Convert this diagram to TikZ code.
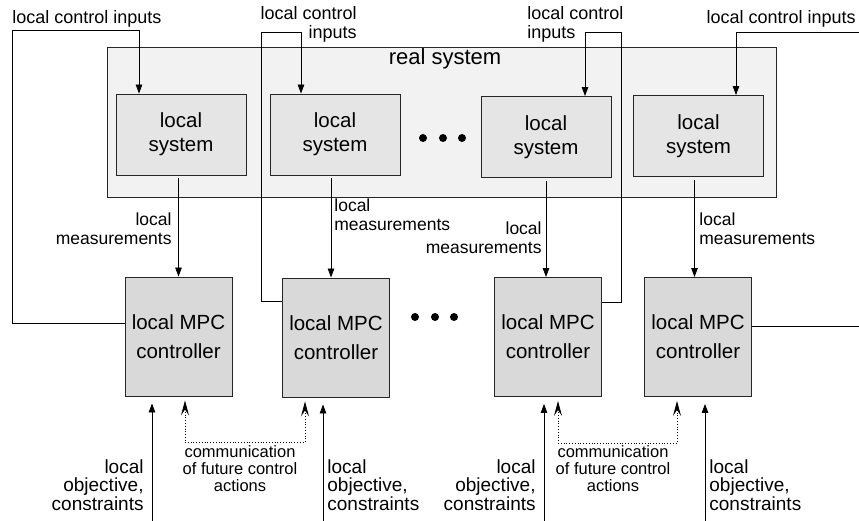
\documentclass[tikz,border=0pt]{standalone}
\usepackage{fontspec}
\setmainfont{Liberation Sans}
\usetikzlibrary{arrows.meta}
\newcommand{\lblfont}{\fontsize{17.5}{18.5}\selectfont}

\begin{document}
\begin{tikzpicture}[x=1pt,y=-1pt,line width=0.8pt,
    sysbox/.style={draw=black!85,fill=black!10,line width=0.9pt,minimum width=130pt,minimum height=81pt,align=center,font=\fontsize{20.5}{24}\selectfont},
    mpcbox/.style={draw=black!85,fill=black!15,line width=0.9pt,minimum width=107pt,minimum height=119pt,align=center,font=\fontsize{20.5}{29}\selectfont},
    lbl/.style={inner sep=0pt,font=\lblfont},
    objlbl/.style={inner sep=0pt,font=\fontsize{19}{18.5}\selectfont},
    comlbl/.style={inner sep=0pt,align=center,font=\fontsize{16.5}{17}\selectfont},
    arr/.style={-{Triangle[length=9pt,width=6.5pt]}},
    comm/.style={dotted,{Stealth[length=15pt,width=8pt,inset=6pt]}-{Stealth[length=15pt,width=8pt,inset=6pt]}}]
    \useasboundingbox (0,0) rectangle (859,521);

    \node[draw=black!85,fill=black!5,line width=0.9pt,minimum width=669pt,minimum height=150pt] (real) at (441.5,122) {};
    \node[font=\fontsize{22}{24}\selectfont] (realt) at (445,59) {real system};

    \node[sysbox] (s1) at (181,134.5) {local\\system};
    \node[sysbox] (s2) at (335,134.5) {local\\system};
    \node[sysbox] (s3) at (546,137) {local\\system};
    \node[sysbox] (s4) at (698.5,136) {local\\system};

    \node[mpcbox] (m1) at (178.5,336.5) {local MPC\\controller};
    \node[mpcbox] (m2) at (336,337.5) {local MPC\\controller};
    \node[mpcbox] (m3) at (548,337) {local MPC\\controller};
    \node[mpcbox] (m4) at (698,337) {local MPC\\controller};

    \foreach \x in {423,443,462} \fill (\x,138) circle (4);
    \foreach \x in {415,435,454} \fill (\x,317) circle (4);

    % local measurements
    \draw[arr,shorten <=3pt] (s1.south -| m1.north) -- (m1.north);
    \draw[arr,shorten <=3pt] ([xshift=-4pt]s2.south) -- ([xshift=-4pt]s2.south |- m2.north);
    \draw[arr,shorten <=3pt] (s3.south) -- (s3.south |- m3.north);
    \draw[arr,shorten <=3pt] ([xshift=-4pt]s4.south) -- ([xshift=-4pt]s4.south |- m4.north);

    \node[lbl,anchor=south east,align=right] (meas1) at (172,245) {local\\measurements};
    \node[lbl,anchor=south west,align=left] (meas2) at (334,231) {local\\measurements};
    \node[lbl,anchor=south east,align=right] (meas3) at (542,254) {local\\measurements};
    \node[lbl,anchor=south west,align=left] (meas4) at (699,245) {local\\measurements};

    % local control inputs
    \coordinate (lft) at (12,30);
    \coordinate (rgt) at (859,32);
    \draw[arr] ([yshift=13.5pt]m1.west) -| (lft) -| ([xshift=-42pt]s1.north);
    \draw[arr] ([yshift=36.5pt]m2.west) -| (261,32) -| ([xshift=-34pt]s2.north);
    \draw[arr] ([yshift=35pt]m3.east) -| (621,32) -| ([xshift=39pt]s3.north);
    \draw[arr] (rgt) -| ([xshift=37.5pt]s4.north);
    \draw ([yshift=11pt]m4.east) -- (rgt |- 0,326);

    \node[lbl,font=\fontsize{18}{19}\selectfont,anchor=base west] (in1) at (12,24) {local control inputs};
    \node[lbl,font=\fontsize{18}{19}\selectfont,anchor=south east,align=right] (in2) at (357,43) {local control\\inputs};
    \node[lbl,font=\fontsize{18}{19}\selectfont,anchor=south west,align=left] (in3) at (527,43) {local control\\inputs};
    \node[lbl,font=\fontsize{18}{19}\selectfont,anchor=base east] (in4) at (856,24) {local control inputs};

    % objectives and communication
    \coordinate (bot) at (0,521);
    \coordinate (o1) at ([xshift=-26.5pt,yshift=-7pt]m1.south);
    \coordinate (o2) at ([xshift=-13pt,yshift=-7pt]m2.south);
    \coordinate (o3) at ([xshift=-4pt,yshift=-7pt]m3.south);
    \coordinate (o4) at ([xshift=7pt,yshift=-7pt]m4.south);
    \foreach \o in {o1,o2,o3,o4} \draw[arr] (\o |- bot) -- (\o);

    \node[objlbl,anchor=south east,align=right] (obj1) at (144,511) {local\\objective,\\constraints};
    \node[objlbl,anchor=south west,align=left] (obj2) at (327,511) {local\\objective,\\constraints};
    \node[objlbl,anchor=south east,align=right] (obj3) at (536,511) {local\\objective,\\constraints};
    \node[objlbl,anchor=south west,align=left] (obj4) at (709,511) {local\\objective,\\constraints};

    \coordinate (k1) at ([xshift=6.5pt,yshift=-4pt]m1.south);
    \coordinate (k2) at ([xshift=-31pt,yshift=-4pt]m2.south);
    \coordinate (k3) at ([xshift=10pt,yshift=-4pt]m3.south);
    \coordinate (k4) at ([xshift=-21pt,yshift=-4pt]m4.south);
    \draw[comm] (k1) -- ++(0,42) -| (k2);
    \draw[comm] (k3) -- ++(0,42) -| (k4);

    \node[comlbl] (com1) at (240,469) {communication\\of future control\\actions};
    \node[comlbl] (com2) at (613,469) {communication\\of future control\\actions};
\end{tikzpicture}
\end{document}
